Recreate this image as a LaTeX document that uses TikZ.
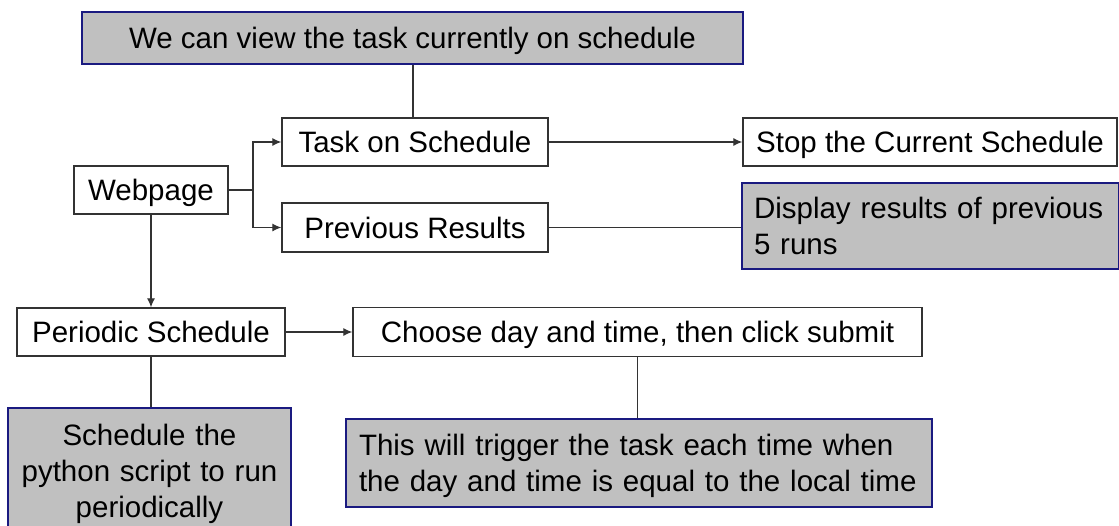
\documentclass[tikz,border=0pt]{standalone}
\usepackage{fontspec}
\setmainfont{Liberation Sans}
\usetikzlibrary{arrows.meta}
\definecolor{boxgray}{HTML}{C0C0C0}
\definecolor{navy}{HTML}{1A1A80}
\definecolor{edge}{HTML}{333333}
\begin{document}
\begin{tikzpicture}[x=1pt,y=-1pt,
  plain/.style={draw=edge, line width=1.3pt, fill=white, inner sep=0pt, text height=21pt, text depth=0pt, font=\fontsize{29.5}{36}\selectfont},
  notebox/.style={draw=navy, line width=2pt, fill=boxgray, inner sep=0pt, text height=21pt, font=\fontsize{29.5}{36}\selectfont},
  note/.style={notebox, text depth=0pt},
  link/.style={draw=edge, line width=1.2pt},
  arr/.style={link, -{Latex[length=9pt,width=8pt]}}]
\clip (0,0) rectangle (1119,525);
\fill[white] (0,0) rectangle (1119,525);

\node[note, minimum width=661pt, minimum height=52pt] (top) at (412.5,38) {We can view the task currently on schedule};
\node[plain, minimum width=266pt, minimum height=48pt] (task) at (415,142) {Task on Schedule};
\node[plain, minimum width=374pt, minimum height=48pt] (stop) at (930,142) {Stop the Current Schedule};
\node[plain, minimum width=154pt, minimum height=48pt] (web) at (151,190) {Webpage};
\node[plain, minimum width=266pt, minimum height=49pt] (prev) at (415,227.5) {Previous Results};
\node[notebox, text depth=36pt, minimum width=377pt, minimum height=86pt, inner xsep=12pt, text width=353pt, align=left] (disp) at (930.5,226) {Display results of previous\\5 runs};
\node[plain, minimum width=268pt, minimum height=48pt] (per) at (151,332) {Periodic Schedule};
\node[plain, minimum width=569pt, minimum height=49pt] (choose) at (637.5,332) {Choose day and time, then click submit};
\node[notebox, text depth=72pt, minimum width=283pt, minimum height=126pt, text width=275pt, align=center] (py) at (149.5,471) {Schedule the\\python script to run\\periodically};
\node[notebox, text depth=36pt, minimum width=586pt, minimum height=88pt, inner xsep=13pt, text width=560pt, align=left] (trig) at (639,463) {This will trigger the task each time when\\the day and time is equal to the local time};

\coordinate (j) at (253,190);
\draw[link] (top.south -| task.north) ++(-2,0) coordinate (t1) -- (t1 |- task.north);
\draw[link] (web.east) -- (j);
\draw[arr] (j) |- (task.west);
\draw[arr] (j) |- (prev.west);
\draw[arr] (task.east) -- (stop.west);
\draw[link] (prev.east) -- (prev.east -| disp.west);
\draw[arr] (web.south) -- (per.north);
\draw[arr] (per.east) -- (per.east -| choose.west);
\draw[link] (per.south) -- (per.south |- py.north);
\draw[link] (choose.south) -- (choose.south |- trig.north);
\end{tikzpicture}
\end{document}
